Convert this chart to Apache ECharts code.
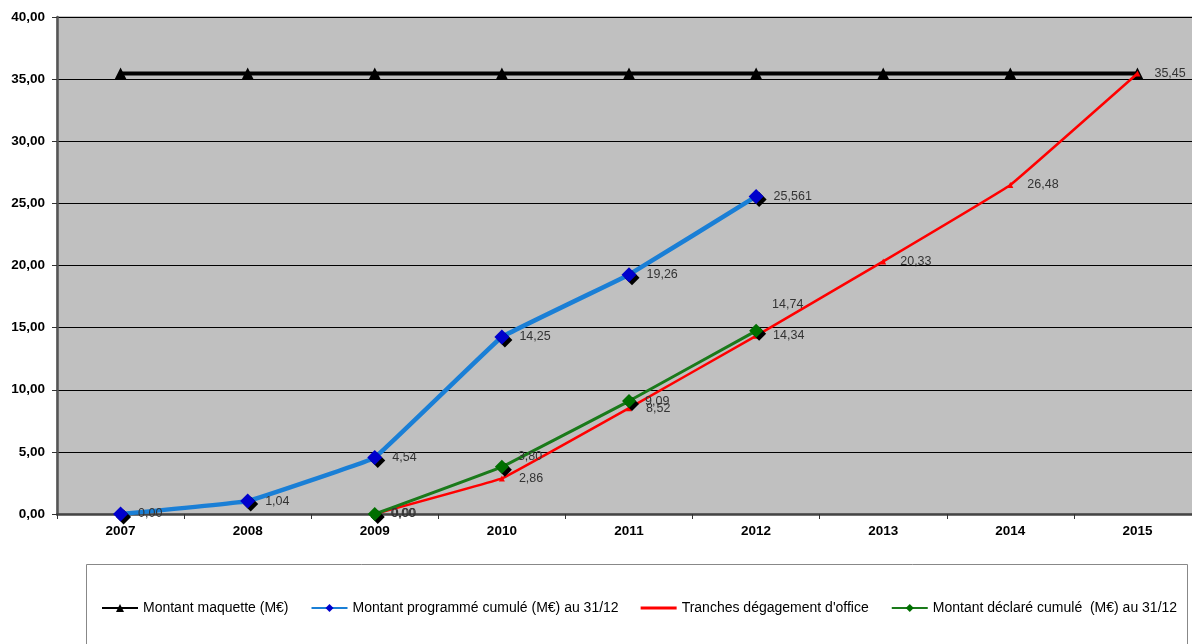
<!DOCTYPE html>
<html>
<head>
<meta charset="utf-8">
<script src="https://cdn.jsdelivr.net/npm/echarts@6/dist/echarts.min.js"></script>
<style>
html,body{margin:0;padding:0;background:#fff;overflow:hidden;width:1192px;height:644px;}
#chart{width:1201px;height:644px;}
</style>
</head>
<body>
<div id="chart"></div>
<script>
const years = ['2007','2008','2009','2010','2011','2012','2013','2014','2015'];
const yTicks = [0,5,10,15,20,25,30,35,40];
const maquette = [35.45,35.45,35.45,35.45,35.45,35.45,35.45,35.45,35.45];
const programme = [0.00,1.04,4.54,14.25,19.26,25.561,null,null,null];
const degagement = [null,null,0.00,2.86,8.52,14.34,20.33,26.48,35.45];
const declare = [null,null,0.00,3.80,9.09,14.74,null,null,null];
const names = ['Montant maquette (M€)','Montant programmé cumulé (M€) au 31/12','Tranches dégagement d\'office','Montant déclaré cumulé  (M€) au 31/12'];

function fmt(v){
  const s = String(v);
  const dec = s.indexOf('.') >= 0 ? s.split('.')[1].length : 0;
  return v.toFixed(Math.max(2, dec)).replace('.', ',');
}
const labelBase = {show:true, position:'right', color:'#333', fontSize:12.5, fontFamily:'Liberation Sans, Arial, sans-serif', formatter:p=>p.value==null?'':fmt(p.value)};

// label vertical adjustments for the green series (style only)
const declareOffsets = {3:[0,-10], 5:[0,-26]};
const declareData = declare.map((v,i)=> declareOffsets[i] ? {value:v, label:{offset:declareOffsets[i]}} : v);

const chart = echarts.init(document.getElementById('chart'));
chart.setOption({
  animation:false,
  backgroundColor:'#fff',
  graphic:[{type:'rect', shape:{x:86.5,y:564.5,width:1101,height:100}, style:{fill:'#fff', stroke:'#888', lineWidth:1}, z:-1}],
  legend:{
    left:96, top:596, itemWidth:36, itemHeight:10, itemGap:22,
    textStyle:{fontSize:14, color:'#000', fontFamily:'Liberation Sans, Arial, sans-serif'},
    data:[{name:names[0]},{name:names[1]},{name:names[2], icon:'path://M0,0L36,0L36,3L0,3Z'},{name:names[3]}]
  },
  grid:{left:57, top:17, right:0, bottom:130, show:true, backgroundColor:'#c0c0c0', borderColor:'#888', borderWidth:1},
  xAxis:{
    type:'category', data:years, boundaryGap:true,
    axisLine:{lineStyle:{color:'#444', width:2.5}},
    axisTick:{show:true, alignWithLabel:false, length:5, lineStyle:{color:'#333'}},
    axisLabel:{color:'#000', fontWeight:'bold', fontSize:13.5, margin:10, fontFamily:'Liberation Sans, Arial, sans-serif'}
  },
  yAxis:{
    type:'value', min:0, max:40, interval:5,
    axisLine:{show:true, lineStyle:{color:'#555', width:2.5}},
    axisTick:{show:true, length:5, lineStyle:{color:'#333'}},
    splitLine:{lineStyle:{color:'#000', width:1}},
    axisLabel:{color:'#000', fontWeight:'bold', fontSize:13.5, margin:12, fontFamily:'Liberation Sans, Arial, sans-serif',
      formatter:v=>v.toFixed(2).replace('.', ',')}
  },
  series:[
    {name:names[0], type:'line', data:maquette, symbol:'triangle', symbolSize:12,
      lineStyle:{color:'#000', width:4}, itemStyle:{color:'#000'}, z:2},
    {name:names[1], type:'line', data:programme, smooth:0.05, symbol:'diamond', symbolSize:15,
      lineStyle:{color:'#1a7fd6', width:4.5}, itemStyle:{color:'#0000cc', shadowColor:'#000', shadowOffsetX:3, shadowOffsetY:3, shadowBlur:0},
      label:Object.assign({}, labelBase, {distance:10}), z:4},
    {name:names[2], type:'line', data:degagement, smooth:0.05, symbol:'triangle', symbolSize:6,
      lineStyle:{color:'#ff0000', width:2.5}, itemStyle:{color:'#ff0000'},
      label:Object.assign({}, labelBase, {distance:14}), z:3},
    {name:names[3], type:'line', data:declareData, smooth:0.05, symbol:'diamond', symbolSize:14,
      lineStyle:{color:'#1a7a1a', width:3}, itemStyle:{color:'#006f00', shadowColor:'#000', shadowOffsetX:3, shadowOffsetY:3, shadowBlur:0},
      label:Object.assign({}, labelBase, {distance:9}), z:4}
  ]
});
</script>
</body>
</html>
